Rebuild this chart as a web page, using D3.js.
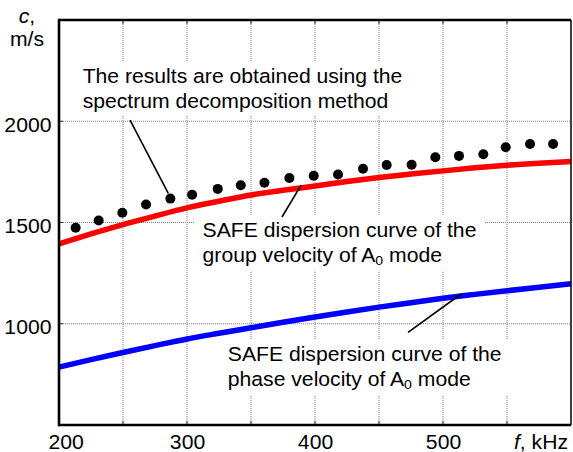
<!DOCTYPE html>
<html>
<head>
<meta charset="utf-8">
<script src="https://cdn.jsdelivr.net/npm/d3@7"></script>
<style>
  html, body { margin: 0; padding: 0; background: #fff; }
  svg { display: block; }
  text { font-family: "Liberation Sans", Arial, Helvetica, sans-serif; fill: #000; }
</style>
</head>
<body>
<svg id="chart" width="573" height="452"></svg>
<script>
// Frequency axis ticks (kHz) and velocity axis ticks (m/s)
const freqTicks = [200, 300, 400, 500];
const freqGrid = [250, 300, 350, 400, 450, 500, 550];
const velTicks = [1000, 1500, 2000];

// SAFE dispersion curves of the A0 mode
const curveFreq = [200, 225, 250, 275, 300, 325, 350, 375, 400, 425, 450, 475, 500, 525, 550, 575, 600];
const groupVel  = [1395, 1444, 1490, 1532, 1572, 1605, 1636, 1659, 1680, 1702, 1722, 1739, 1755, 1770, 1783, 1793, 1801];
const phaseVel  = [786, 823, 858, 892, 925, 953, 980, 1007, 1033, 1058, 1082, 1104, 1126, 1145, 1163, 1180, 1197];

// Group velocity obtained with the spectrum decomposition method
const dotFreq = [213, 231, 249.5, 268, 287, 304, 324, 342, 360.5, 380, 399, 418, 437.5, 456, 475.5, 494, 512.5, 531.5, 549, 568, 586];
const dotVel  = [1474, 1510, 1548, 1589, 1618, 1637, 1666, 1684, 1696, 1720, 1731, 1737, 1765, 1784, 1785, 1822, 1829, 1837, 1872, 1888, 1888];

const W = 573, H = 452;
const plot = { left: 59, right: 571, top: 20, bottom: 425 };
const FONT = 19.5, SX = 1.085;

const svg = d3.select("#chart");
const x = d3.scaleLinear().domain([200, 600]).range([plot.left, plot.right]);
const y = d3.scaleLinear().domain([500, 2500]).range([plot.bottom, plot.top]);

// dotted grid
const grid = svg.append("g").attr("stroke", "#808080").attr("stroke-width", 1).attr("stroke-dasharray", "1,1");
grid.selectAll("line.v").data(freqGrid).join("line")
  .attr("x1", d => x(d)).attr("x2", d => x(d))
  .attr("y1", plot.top).attr("y2", plot.bottom);
grid.selectAll("line.h").data(velTicks).join("line")
  .attr("x1", plot.left).attr("x2", plot.right)
  .attr("y1", d => y(d)).attr("y2", d => y(d));

// small inward ticks on the frame
const ticks = svg.append("g").attr("stroke", "#333").attr("stroke-width", 1);
freqGrid.forEach(f => {
  ticks.append("line").attr("x1", x(f)).attr("x2", x(f)).attr("y1", plot.bottom).attr("y2", plot.bottom - 4);
  ticks.append("line").attr("x1", x(f)).attr("x2", x(f)).attr("y1", plot.top).attr("y2", plot.top + 4);
});
velTicks.forEach(v => {
  ticks.append("line").attr("x1", plot.left).attr("x2", plot.left + 4).attr("y1", y(v)).attr("y2", y(v));
});

// annotations: text blocks, in data coordinates of their first baseline
const notes = [
  { f: 218.5, c: 2187, lines: [["The results are obtained using the"], ["spectrum decomposition method"]] },
  { f: 312.2, c: 1430, lines: [["SAFE dispersion curve of the"], ["group velocity of A", "0", " mode"]] },
  { f: 331.9, c: 816,  lines: [["SAFE dispersion curve of the"], ["phase velocity of A", "0", " mode"]] }
];
// leader lines from the notes to the marks they describe
const leaders = [
  { f1: 255.5, c1: 2006, f2: 285.4, c2: 1644 },
  { f1: 374.2, c1: 1527, f2: 389.1, c2: 1685 },
  { f1: 472.7, c1: 957,  f2: 514.1, c2: 1147 }
];

// white backing boxes behind the notes (drawn first, texts later)
const boxLayer = svg.append("g");
const markLayer = svg.append("g");
const textLayer = svg.append("g");

const line = d3.line().x(d => x(d[0])).y(d => y(d[1])).curve(d3.curveMonotoneX);
markLayer.append("path")
  .datum(curveFreq.map((f, i) => [f, groupVel[i]]))
  .attr("d", line).attr("fill", "none").attr("stroke", "#ff0000").attr("stroke-width", 5.5);
markLayer.append("path")
  .datum(curveFreq.map((f, i) => [f, phaseVel[i]]))
  .attr("d", line).attr("fill", "none").attr("stroke", "#0000ff").attr("stroke-width", 5.5);

markLayer.selectAll("circle").data(dotFreq.map((f, i) => [f, dotVel[i]])).join("circle")
  .attr("cx", d => x(d[0])).attr("cy", d => y(d[1])).attr("r", 5).attr("fill", "#000");

markLayer.selectAll("line.leader").data(leaders).join("line")
  .attr("class", "leader")
  .attr("x1", d => x(d.f1)).attr("y1", d => y(d.c1))
  .attr("x2", d => x(d.f2)).attr("y2", d => y(d.c2))
  .attr("stroke", "#000").attr("stroke-width", 1.6);

notes.forEach(n => {
  const g = textLayer.append("g")
    .attr("transform", `translate(${x(n.f)},${y(n.c)}) scale(${SX},1)`);
  const bg = g.append("rect").attr("fill", "#fff");
  n.lines.forEach((parts, li) => {
    const t = g.append("text").attr("x", 0).attr("y", li * 25).attr("font-size", FONT);
    parts.forEach((p, pi) => {
      const sub = parts.length === 3 && pi === 1;
      const ts = t.append("tspan").text(p);
      if (sub) ts.attr("font-size", 13).attr("dy", 3);
      else if (parts.length === 3 && pi === 2) ts.attr("dy", -3);
    });
  });
  const bb = g.node().getBBox();
  bg.attr("x", bb.x - 8).attr("y", bb.y - 4).attr("width", bb.width + 16).attr("height", bb.height + 7);
  // move the backing box under the marks
  const box = g.node().cloneNode(false);
  boxLayer.node().appendChild(box);
  box.appendChild(bg.node());
});

// axes with labels
const xAxis = svg.append("g").attr("transform", `translate(0,${plot.bottom})`)
  .call(d3.axisBottom(x).tickValues(freqTicks).tickFormat(d3.format("d")).tickSize(0));
xAxis.select(".domain").remove();
xAxis.selectAll("text")
  .attr("y", 24).attr("dy", null)
  .attr("font-size", FONT).attr("font-family", null).attr("fill", "#000")
  .attr("dx", d => d === 200 ? 6 : 0)
  .attr("transform", `scale(${SX},1)`);

const yAxis = svg.append("g").attr("transform", `translate(${plot.left},0)`)
  .call(d3.axisLeft(y).tickValues(velTicks).tickFormat(d3.format("d")).tickSize(0));
yAxis.select(".domain").remove();
yAxis.selectAll("text")
  .attr("x", -7).attr("y", 10).attr("dy", null)
  .attr("font-size", FONT).attr("font-family", null).attr("fill", "#000")
  .attr("transform", `scale(${SX},1)`);

// axis titles
const xt = svg.append("g").attr("transform", `translate(${x(600) - 3},449) scale(${SX},1)`)
  .append("text").attr("text-anchor", "end").attr("font-size", FONT);
xt.append("tspan").attr("font-style", "italic").text("f");
xt.append("tspan").text(", kHz");

const yt = svg.append("g").attr("transform", `translate(27,0) scale(${SX},1)`);
const ytc = yt.append("text").attr("text-anchor", "middle").attr("y", 22.7).attr("font-size", FONT);
ytc.append("tspan").attr("font-style", "italic").text("c");
ytc.append("tspan").text(",");
yt.append("text").attr("text-anchor", "middle").attr("y", 46).attr("font-size", FONT).text("m/s");

// frame
const frame = svg.append("g").attr("stroke", "#000").attr("fill", "none");
frame.append("line").attr("x1", plot.left).attr("x2", plot.left).attr("y1", plot.top - 1.2).attr("y2", plot.bottom + 1.2).attr("stroke-width", 2.6);
frame.append("line").attr("x1", plot.left).attr("x2", plot.right).attr("y1", plot.bottom).attr("y2", plot.bottom).attr("stroke-width", 2.6);
frame.append("line").attr("x1", plot.left).attr("x2", plot.right).attr("y1", plot.top).attr("y2", plot.top).attr("stroke-width", 2.4);
frame.append("line").attr("x1", plot.right).attr("x2", plot.right).attr("y1", plot.top).attr("y2", plot.bottom).attr("stroke-width", 1.5);
</script>
</body>
</html>
